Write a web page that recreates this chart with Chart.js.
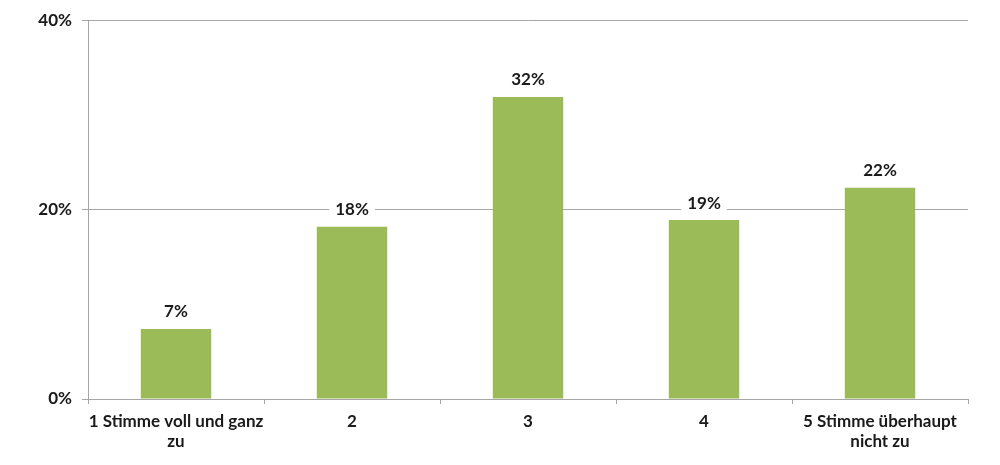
<!DOCTYPE html>
<html>
<head>
<meta charset="utf-8">
<script src="https://cdn.jsdelivr.net/npm/chart.js@4"></script>
<style>
  html, body { margin: 0; padding: 0; background: #fff; }
  #wrap { width: 1000px; height: 465px; }
</style>
</head>
<body>
<div id="wrap"><canvas id="myChart" width="1000" height="465"></canvas></div>
<script>
// Data
const categories = [
    ['1 Stimme voll und ganz', 'zu'],
    '2',
    '3',
    '4',
    ['5 Stimme überhaupt', 'nicht zu']
];
const shares = [7.4, 18.2, 31.9, 18.9, 22.3];
const yTicks = [0, 20, 40];

const labelFont = { family: 'Lato, "Open Sans", sans-serif', size: 17, weight: 'bold' };

// Simple value labels above bars, with white box behind the text
const valueLabels = {
    id: 'valueLabels',
    afterDatasetsDraw(chart) {
        const ctx = chart.ctx;
        const meta = chart.getDatasetMeta(0);
        ctx.save();
        ctx.font = 'bold 17px Lato, "Open Sans", sans-serif';
        ctx.textAlign = 'center';
        ctx.textBaseline = 'middle';
        meta.data.forEach(function(bar, i) {
            const text = Math.round(shares[i]) + '%';
            const y = bar.y - 17;
            const w = ctx.measureText(text).width + 12;
            ctx.fillStyle = '#fff';
            ctx.fillRect(bar.x - w / 2, y - 10, w, 20);
            ctx.fillStyle = '#1a1a1a';
            ctx.fillText(text, bar.x, y);
        });
        ctx.restore();
    }
};

const ctx = document.getElementById('myChart').getContext('2d');
new Chart(ctx, {
    type: 'bar',
    data: {
        labels: categories,
        datasets: [{
            data: shares,
            backgroundColor: '#9bbb59',
            barPercentage: 0.40,
            categoryPercentage: 1.0
        }]
    },
    options: {
        responsive: false,
        animation: false,
        layout: { padding: { top: 19, right: 32, left: 0, bottom: 0 } },
        plugins: {
            legend: { display: false },
            tooltip: { enabled: false }
        },
        scales: {
            x: {
                offset: true,
                grid: {
                    offset: true,
                    drawOnChartArea: false,
                    drawTicks: true,
                    tickLength: 5,
                    color: '#a6a6a6'
                },
                border: { color: '#a6a6a6' },
                ticks: {
                    color: '#1a1a1a',
                    font: labelFont,
                    padding: 7,
                    autoSkip: false,
                    maxRotation: 0
                },
                afterFit(scale) { scale.height = 66; }
            },
            y: {
                min: 0,
                max: 40,
                afterBuildTicks(scale) {
                    scale.ticks = yTicks.map(v => ({ value: v }));
                },
                grid: {
                    color: '#a6a6a6',
                    tickLength: 6
                },
                border: { color: '#a6a6a6' },
                ticks: {
                    color: '#1a1a1a',
                    font: labelFont,
                    padding: 10,
                    callback: v => v + '%'
                },
                afterFit(scale) { scale.width = 88; }
            }
        }
    },
    plugins: [valueLabels]
});
</script>
</body>
</html>
